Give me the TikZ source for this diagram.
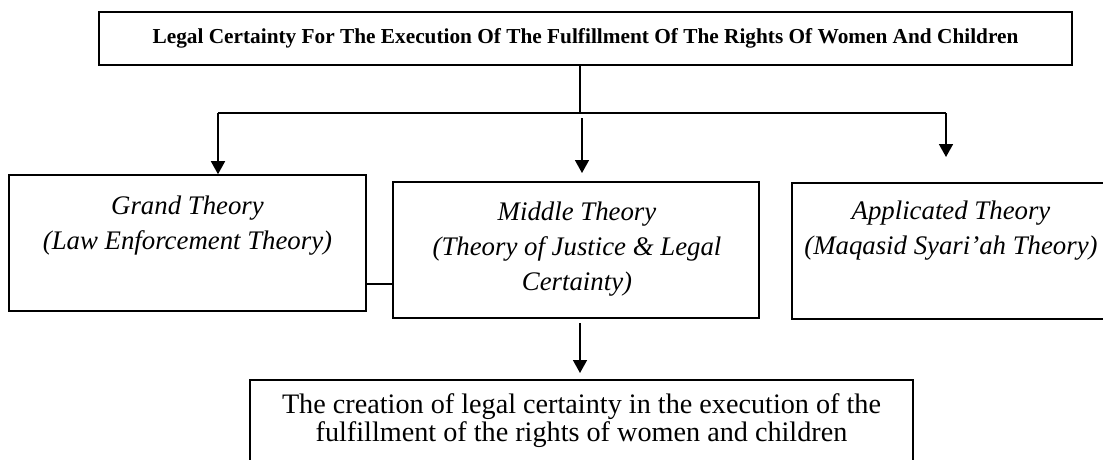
\documentclass[tikz,border=0pt]{standalone}
\usepackage{fontspec}
\setmainfont{Liberation Serif}
\usetikzlibrary{arrows.meta}
\begin{document}
\begin{tikzpicture}[x=1pt,y=1pt,
  box/.style={draw=black,line width=1.6pt,rectangle,inner sep=0pt},
  link/.style={draw=black,line width=1.6pt},
  arr/.style={link,-{Triangle[width=14pt,length=13pt]}},
  theo/.style={align=center,inner sep=0pt,font=\fontsize{26.8}{35}\selectfont\itshape},
]
\useasboundingbox (0,0) rectangle (1103,-459);
\clip (0,0) rectangle (1103,-459);
\node[box,minimum width=973,minimum height=53,font=\fontsize{21.3}{24}\selectfont\bfseries] (top) at (585.5,-38.5) {Legal Certainty For The Execution Of The Fulfillment Of The Rights Of Women And Children};
\node[box,minimum width=357,minimum height=136] (grand) at (187.5,-243) {};
\node[box,minimum width=366,minimum height=136] (middle) at (576,-250) {};
\node[box,minimum width=318,minimum height=136] (appl) at (951,-251) {};
\node[box,minimum width=663,minimum height=110] (result) at (581.5,-435) {};
\node[theo,anchor=base] (grandtxt) at (187.5,-249) {Grand Theory\\(Law Enforcement Theory)};
\node[theo,anchor=base] (middletxt) at (577,-290) {Middle Theory\\(Theory of Justice \& Legal\\Certainty)};
\node[theo,anchor=base] (appltxt) at (951,-254) {Applicated Theory\\(Maqasid Syari’ah Theory)};
\node[align=center,inner sep=0pt,anchor=base,font=\fontsize{28.2}{28}\selectfont] (resulttxt) at (581.5,-441) {The creation of legal certainty in the execution of the\\fulfillment of the rights of women and children};
\coordinate (j) at (580,-113);
\coordinate (gl) at (218,-113);
\coordinate (gr) at (946,-113);
\coordinate (ms) at (582,-118);
\coordinate (me) at (582,-173);
\coordinate (rs) at (946,-157);
\coordinate (bs) at (580,-323);
\coordinate (be) at (580,-373);
\coordinate (lk) at (0,-284);
\draw[link] (top.south -| j) -- (j);
\draw[link] (gl) -- (gr);
\draw[arr] (gl) -- (gl |- grand.north);
\draw[arr] (ms) -- (me);
\draw[arr] (gr) -- (rs);
\draw[arr] (bs) -- (be);
\draw[link] (grand.east |- lk) -- (middle.west |- lk);
\end{tikzpicture}
\end{document}
